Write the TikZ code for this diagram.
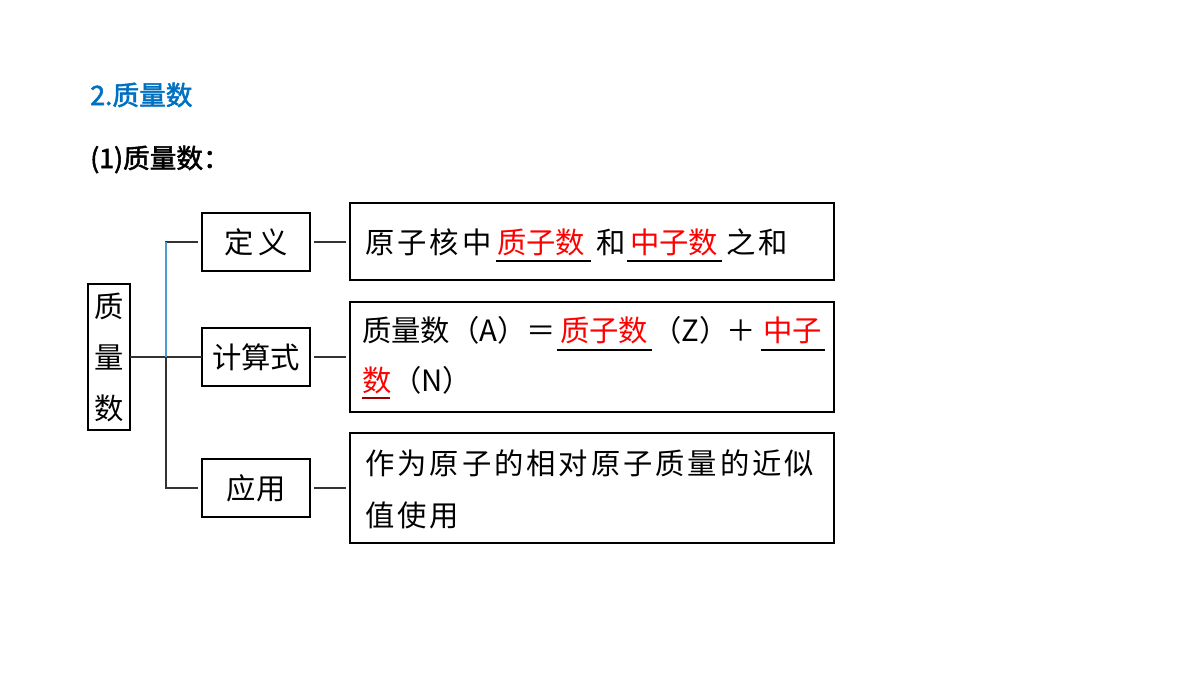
\documentclass[tikz,border=0pt]{standalone}
\usepackage{fontspec}
\newfontfamily\cjk{Noto Sans CJK SC}
\newfontfamily\cjks{Noto Sans CJK SC}[LetterSpace=10]
\newfontfamily\cjkb{Noto Sans CJK SC}[FakeBold=2]
\definecolor{tblue}{RGB}{0,112,192}
\begin{document}
\begin{tikzpicture}[x=0.75pt,y=-0.75pt,
  txt/.style={inner sep=0pt,anchor=base west,font=\cjk\fontsize{22}{26}\selectfont},
  stxt/.style={inner sep=0pt,anchor=base west,font=\cjks\fontsize{22}{26}\selectfont},
  red/.style={txt,text=red},
  box/.style={draw,line width=0.8pt},
  ln/.style={line width=0.8pt,draw=black!80},
  ul/.style={line width=0.8pt}]
\useasboundingbox (0,0) rectangle (1200,675);
\node[inner sep=0pt,anchor=base west,font=\cjkb\fontsize{20}{24}\selectfont,text=tblue] (t1) at (90,105) {2.质量数};
\node[inner sep=0pt,anchor=base west,font=\cjkb\fontsize{20}{24}\selectfont] (t2) at (90,168) {(1)质量数：};
% boxes
\draw[box] (88,284) rectangle (130,430);
\node[txt,anchor=center] (z1) at (109,306) {质};
\node[txt,anchor=center] (z2) at (109,357) {量};
\node[txt,anchor=center] (z3) at (109,408) {数};
\coordinate (root) at (130,357);
\draw[box] (202,213) rectangle (310,271); \node[txt,anchor=center] (a) at (256,242) {定\,义};
\draw[box] (202,328) rectangle (310,386); \node[txt,anchor=center] (b) at (256,357) {计算式};
\draw[box] (202,459) rectangle (310,517); \node[txt,anchor=center] (c) at (256,488) {应用};
\draw[box] (350,203) rectangle (834,280);
\draw[box] (350,302) rectangle (834,412);
\draw[box] (350,433) rectangle (834,543);
% connectors
\coordinate (j0) at (166,357);
\coordinate (j1) at (166,242);
\coordinate (j2) at (166,488);
\draw[ln] (root) -- (202,357);
\draw[ln] (198,242) -- (j1) -- (j2) -- (198,488);
\draw[line width=0.8pt,draw=tblue!70] (j1) -- (j0);
\foreach \y in {242,357,488} \draw[ln] (314,\y) -- (346,\y);
% box1
\node[stxt] (p1) at (365,253) {原子核中};
\node[red] (p2) at (497,253) {质子数};
\node[txt] (p3) at (596,253) {和};
\node[red] (p4) at (630,253) {中子数};
\node[stxt] (p5) at (726,253) {之和};
\draw[ul] (496,261) -- (591,261);
\draw[ul] (627,261) -- (722,261);
% box2
\node[txt] (q1) at (362,341) {质量数（A）＝};
\node[red] (q2) at (560,341) {质子数};
\node[txt] (q3) at (652,341) {（Z）};
\node[txt] (q4) at (726,341) {＋};
\node[red] (q5) at (763,341) {中子};
\draw[ul] (557,350) -- (652,350);
\draw[ul] (761,350) -- (825,350);
\node[red] (r1) at (362,391) {数};
\node[txt] (r2) at (392,391) {（N）};
\draw[ul,draw=red!60!black] (362,398) -- (390,398);
% box3
\node[stxt] (s1) at (365,474) {作为原子的相对原子质量的近似};
\node[stxt] (s2) at (365,526) {值使用};
\end{tikzpicture}
\end{document}
